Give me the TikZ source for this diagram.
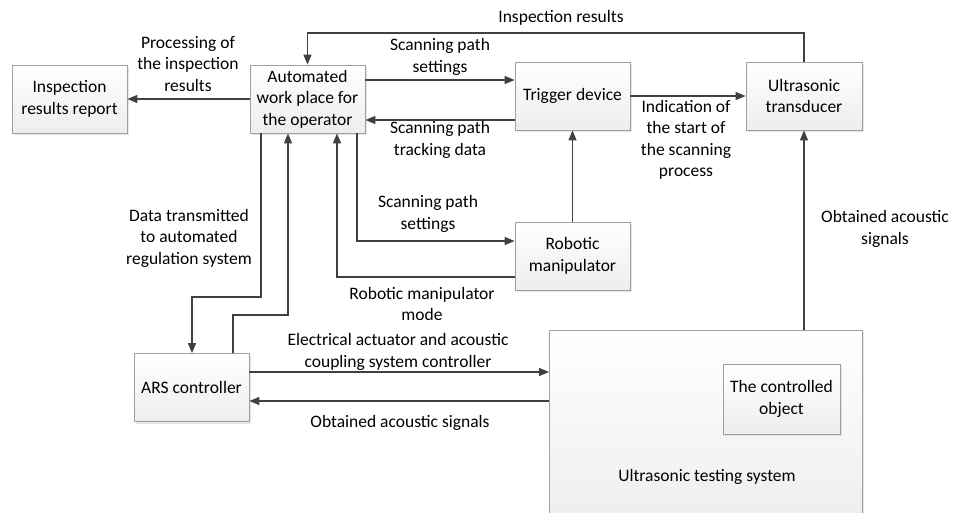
\documentclass[tikz,border=0pt]{standalone}
\usepackage{fontspec}
\setmainfont{Carlito}
\usepackage{tikz}
\usetikzlibrary{positioning,shapes,shadows,arrows.meta}

\tikzset{
  block/.style={draw=gray!75, line width=0.8pt, top color=white, bottom color=gray!14,
    minimum width=115pt, minimum height=68pt, align=center, inner sep=2pt,
    drop shadow={opacity=0.2, shadow xshift=2pt, shadow yshift=-2pt}},
  lbl/.style={align=center, inner sep=0pt},
  arr/.style={draw=black!75, line width=1.4pt, -{Triangle[length=10pt,width=8pt]}},
  wire/.style={draw=black!75, line width=1.4pt}
}

\begin{document}
\begin{tikzpicture}[x=1pt,y=-1pt,font=\fontsize{17.5}{21.5}\selectfont]
\useasboundingbox (0,0) rectangle (953,512);
% boxes
\node[block] (report) at (69.5,99) {Inspection\\results report};
\node[block] (awp) at (307.5,99) {Automated\\work place for\\the operator};
\node[block] (trig) at (572.5,96) {Trigger device};
\node[block, minimum width=116pt] (trans) at (804,96) {Ultrasonic\\transducer};
\node[block] (robot) at (572.5,256) {Robotic\\manipulator};
\node[block] (ars) at (191.5,387.5) {ARS controller};
\node[block, minimum width=313pt, minimum height=200pt, anchor=north west] (uts) at (549,330) {};
\node[block, minimum width=117pt, minimum height=70pt] (obj) at (781.5,399) {The controlled\\object};
\node[lbl] (utsname) at (707,477) {Ultrasonic testing system};

% connectors
\draw[arr] (awp) -- (report);
\draw[arr] (trans.north) -- (trans.north |- 0,33) -| (awp.north);
\draw[arr] (awp.east |- 0,80) -- (trig.west |- 0,80);
\draw[arr] (trig.west |- 0,120) -- (awp.east |- 0,120);
\draw[arr] (trig.east) -- (trans.west);
\draw[arr] (robot.north) -- (trig.south);
\draw[arr] (awp.south -| 357,0) |- ([yshift=15pt]robot.west);
\draw[arr] ([yshift=-21pt]robot.west) -| (awp.south -| 337,0);
\draw[arr] (awp.south -| 261,0) |- (192,297) -- (ars.north -| 192,0);
\draw[arr] (ars.north -| 233,0) |- (288,315) -- (awp.south -| 288,0);
\draw[arr] (ars.east |- 0,372) -- (uts.west |- 0,372);
\draw[arr] (uts.west |- 0,401) -- (ars.east |- 0,401);
\draw[arr] (uts.north -| trans.south) -- (trans.south);

% labels
\node[lbl] (l1) at (188,64) {Processing of\\the inspection\\results};
\node[lbl] (l2) at (561,18) {Inspection results};
\node[lbl] (l3) at (440,57) {Scanning path\\settings};
\node[lbl] (l4) at (440,140) {Scanning path\\tracking data};
\node[lbl] (l5) at (686,140) {Indication of\\the start of\\the scanning\\process};
\node[lbl] (l6) at (428,214) {Scanning path\\settings};
\node[lbl] (l7) at (422,304) {Robotic manipulator\\mode};
\node[lbl] (l8) at (189,238) {Data transmitted\\to automated\\regulation system};
\node[lbl] (l9) at (398,352) {Electrical actuator and acoustic\\coupling system controller};
\node[lbl] (l10) at (400,423) {Obtained acoustic signals};
\node[lbl] (l11) at (885,229) {Obtained acoustic\\signals};
\end{tikzpicture}
\end{document}
